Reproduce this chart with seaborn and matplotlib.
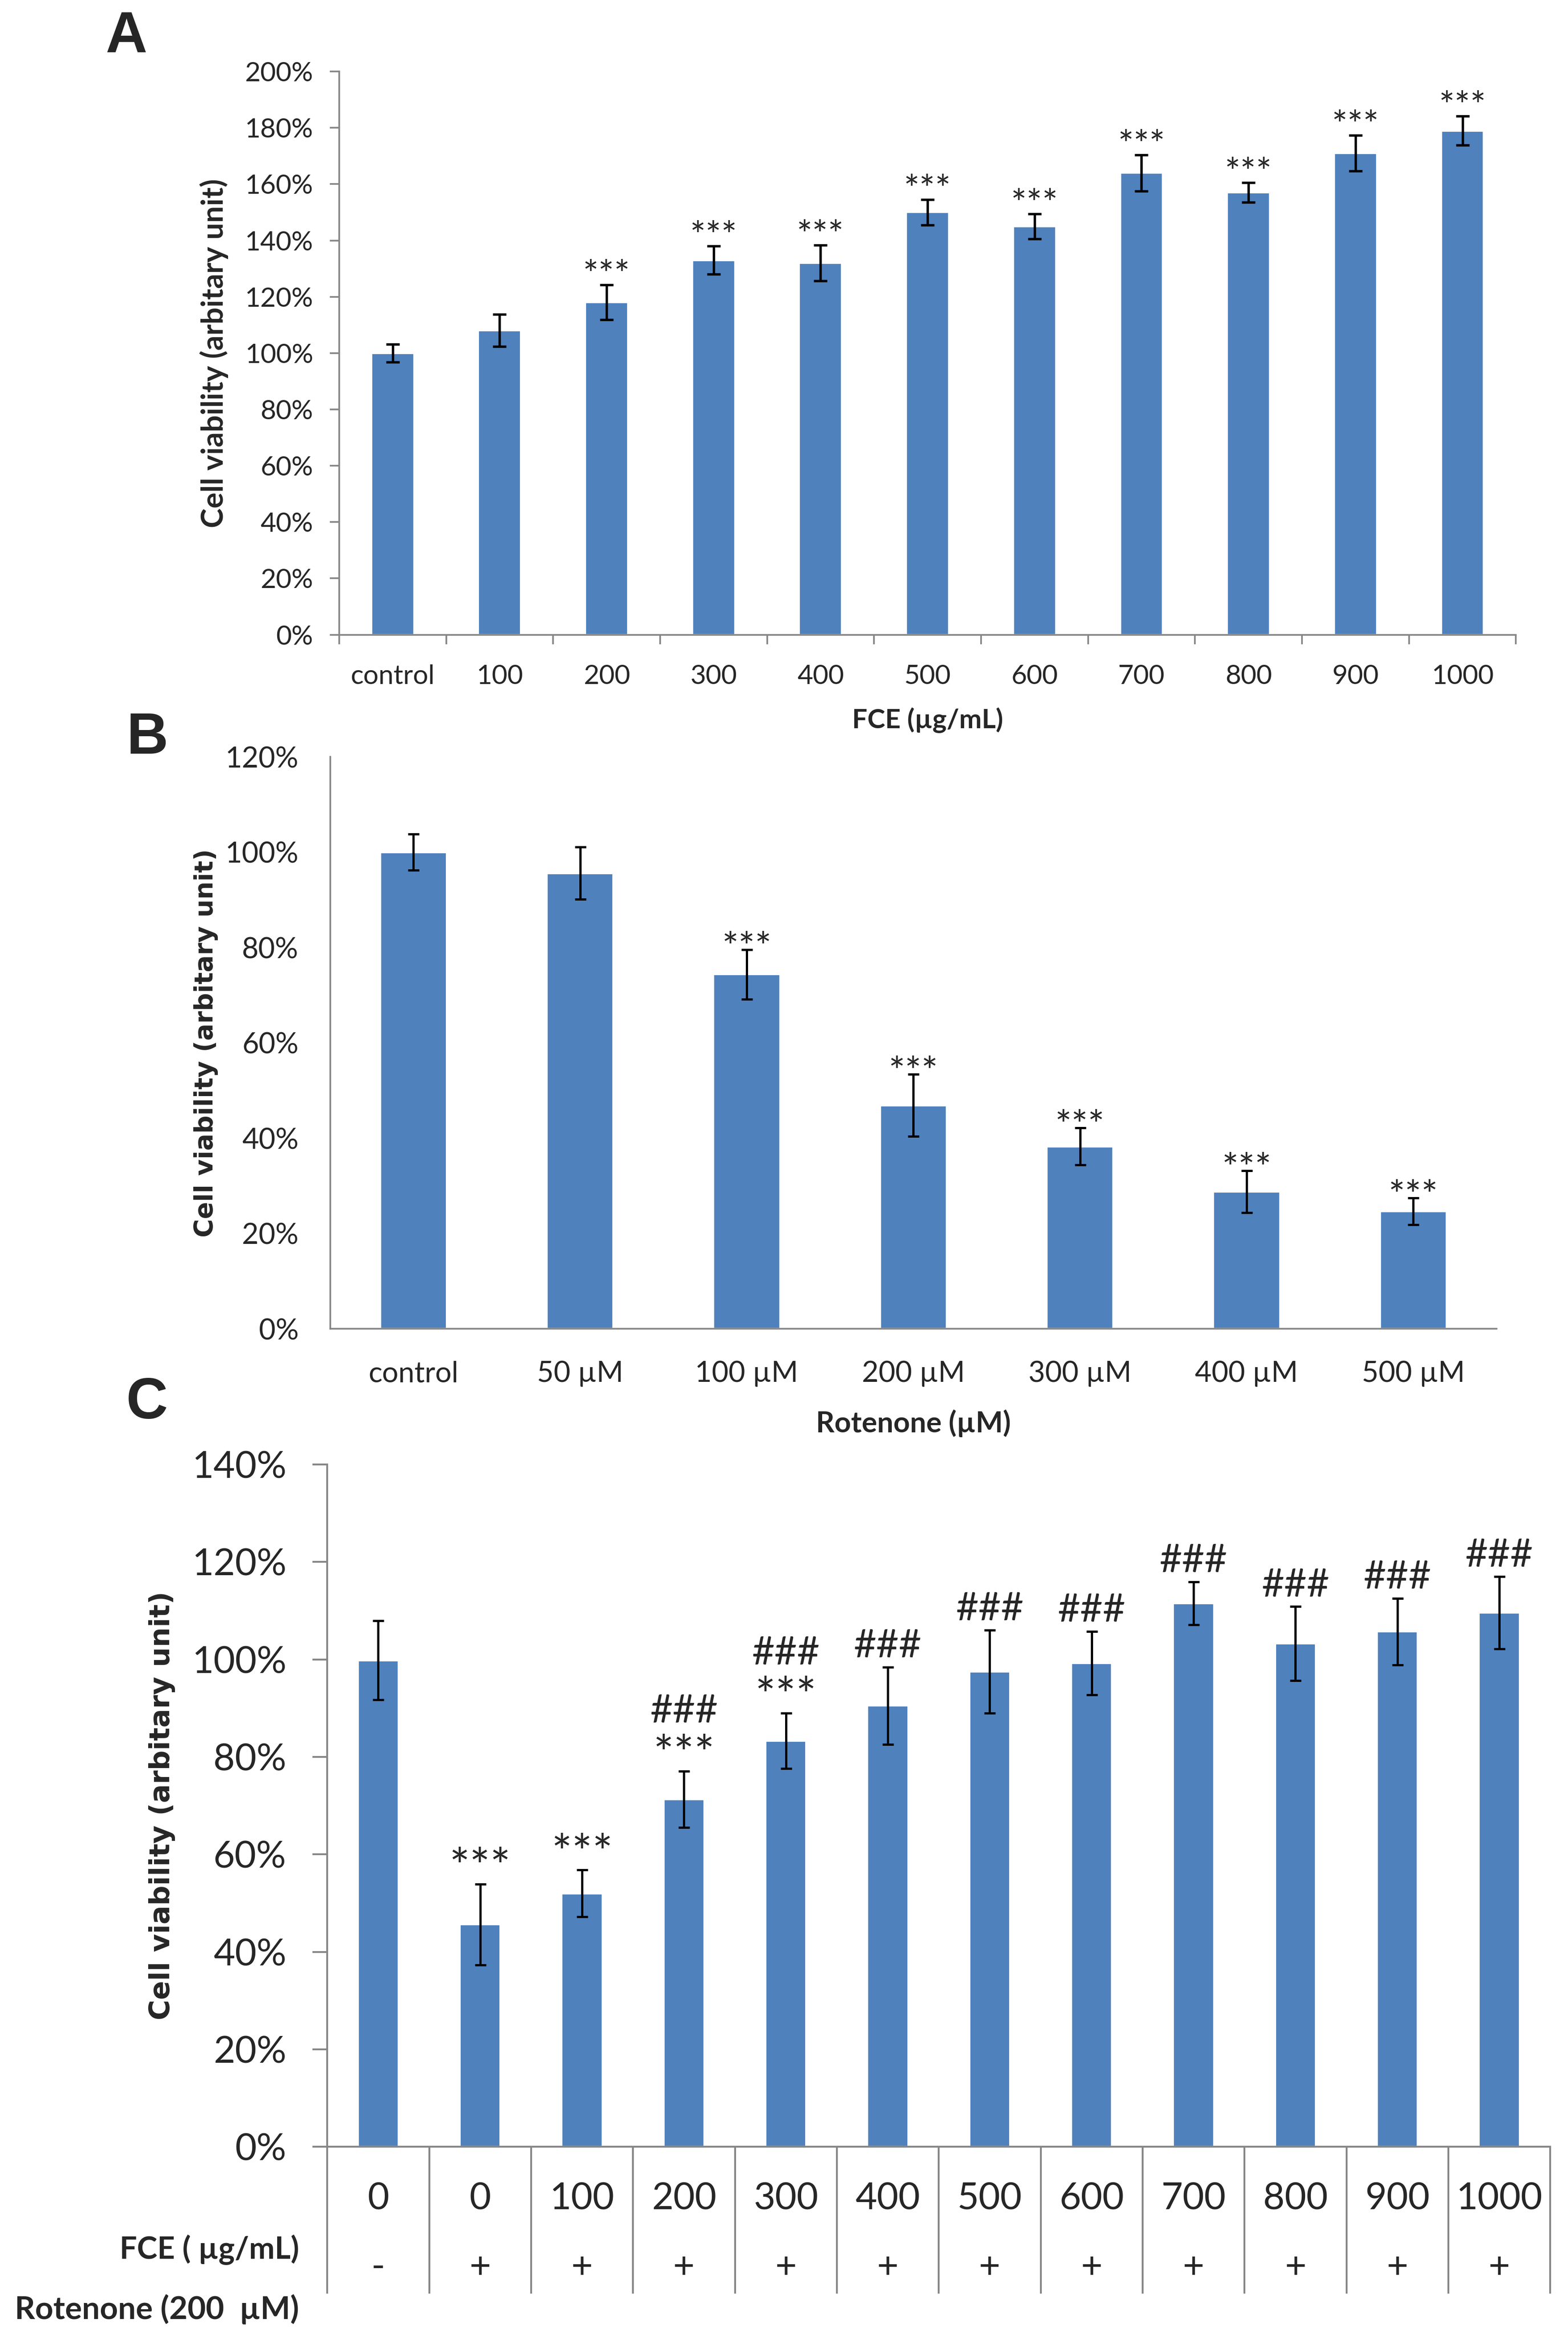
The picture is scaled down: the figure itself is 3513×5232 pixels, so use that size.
import matplotlib
matplotlib.use('Agg')
import matplotlib.pyplot as plt
from matplotlib.ticker import PercentFormatter, MultipleLocator
import numpy as np
import pandas as pd
import seaborn as sns

# Panel A: FCE alone
fce_doses = ['control', '100', '200', '300', '400', '500', '600', '700', '800', '900', '1000']
fce_viability = [100, 108, 118, 133, 132, 150, 145, 164, 157, 171, 179]
fce_error = [3.2, 5.7, 6.2, 5.0, 6.4, 4.5, 4.4, 6.4, 3.5, 6.4, 5.1]
fce_marks = ['', '', '***', '***', '***', '***', '***', '***', '***', '***', '***']

# Panel B: rotenone alone
rot_doses = ['control', '50 µM', '100 µM', '200 µM', '300 µM', '400 µM', '500 µM']
rot_viability = [100, 95.6, 74.4, 46.9, 38.3, 28.8, 24.7]
rot_error = [3.8, 5.5, 5.2, 6.5, 3.9, 4.4, 2.8]
rot_marks = ['', '', '***', '***', '***', '***', '***']

# Panel C: FCE + rotenone 200 uM
combo_fce = ['0', '0', '100', '200', '300', '400', '500', '600', '700', '800', '900', '1000']
combo_rot = ['-', '+', '+', '+', '+', '+', '+', '+', '+', '+', '+', '+']
combo_viability = [99.8, 45.6, 52.0, 71.3, 83.3, 90.5, 97.5, 99.2, 111.5, 103.3, 105.7, 109.6]
combo_error = [8.1, 8.3, 4.8, 5.8, 5.7, 7.9, 8.5, 6.5, 4.4, 7.6, 6.8, 7.4]
combo_vs_ctrl = ['', '***', '***', '***', '***', '', '', '', '', '', '', '']
combo_vs_rot = ['', '', '', '###', '###', '###', '###', '###', '###', '###', '###', '###']

BAR = '#4F81BD'
GRAY = '#868686'

sns.set_style('white')
plt.rcParams['font.family'] = ['Lato', 'DejaVu Sans']

fig = plt.figure(figsize=(3513 / 300, 5232 / 300), dpi=300)
ax_a = fig.add_axes([0.2163, 0.7283, 0.7505, 0.2411])
ax_b = fig.add_axes([0.2106, 0.4311, 0.7438, 0.2449])
ax_c = fig.add_axes([0.2087, 0.0810, 0.7800, 0.2921])


def draw_bars(ax, labels, values, errors, lw, cap):
    df = pd.DataFrame({'group': [f'g{i}' for i in range(len(labels))], 'value': values})
    sns.barplot(data=df, x='group', y='value', color=BAR, saturation=1, width=0.4, ax=ax)
    centers = [p.get_x() + p.get_width() / 2 for p in ax.patches]
    ax.errorbar(centers, values, yerr=errors, fmt='none', ecolor='black',
                elinewidth=lw, capsize=cap, capthick=lw, zorder=3)
    ax.set_xticks(centers, labels)
    ax.set_xlim(-0.5, len(labels) - 0.5)
    for s in ['top', 'right']:
        ax.spines[s].set_visible(False)
    for s in ['left', 'bottom']:
        ax.spines[s].set_color(GRAY)
        ax.spines[s].set_linewidth(0.9)
    ax.yaxis.set_major_formatter(PercentFormatter(xmax=100, decimals=0))
    ax.yaxis.set_major_locator(MultipleLocator(20))
    return centers


def mark(ax, centers, values, errors, marks, size, off):
    for x, v, e, m in zip(centers, values, errors, marks):
        if m:
            ax.annotate(m, xy=(x, v + e), xytext=(0, off), textcoords='offset points',
                        ha='center', va='baseline', fontsize=size)


# ---- A ----
ca = draw_bars(ax_a, fce_doses, fce_viability, fce_error, 1.3, 3.5)
ax_a.set_ylim(0, 200)
mark(ax_a, ca, fce_viability, fce_error, fce_marks, 20, -1.2)
ax_a.set_xticks(np.arange(len(fce_doses) + 1) - 0.5, minor=True)
ax_a.tick_params(axis='x', which='major', length=0, pad=16, labelsize=14.5)
ax_a.tick_params(axis='x', which='minor', length=5, width=0.9, color=GRAY, direction='out', bottom=True)
ax_a.tick_params(axis='y', length=5, width=0.9, color=GRAY, direction='out', left=True, pad=9, labelsize=14.5)
ax_a.set_xlabel('FCE (µg/mL)', fontsize=14.5, fontweight='bold', labelpad=10)
ax_a.set_ylabel('Cell viability (arbitary unit)', fontsize=16, fontweight='bold')
ax_a.yaxis.set_label_coords(-0.094, 0.5)

# ---- B ----
cb = draw_bars(ax_b, rot_doses, rot_viability, rot_error, 1.2, 3.0)
ax_b.set_ylim(0, 120)
mark(ax_b, cb, rot_viability, rot_error, rot_marks, 21, -5.8)
ax_b.tick_params(axis='x', length=0, pad=17, labelsize=15.5)
ax_b.tick_params(axis='y', length=0, pad=17, labelsize=15.5)
ax_b.set_xlabel('Rotenone (µM)', fontsize=15.5, fontweight='bold', labelpad=12)
ax_b.set_ylabel('Cell viability (arbitary unit)', fontsize=13.6, fontweight='bold',
                family=['DejaVu Sans'])
ax_b.yaxis.set_label_coords(-0.096, 0.5)

# ---- C ----
cc = draw_bars(ax_c, combo_fce, combo_viability, combo_error, 1.2, 3.0)
ax_c.set_ylim(0, 140)
mark(ax_c, cc, combo_viability, combo_error, combo_vs_ctrl, 26, 0.4)
hash_off = [26.1 if s else 5.3 for s in combo_vs_ctrl]
for x, v, e, m, o in zip(cc, combo_viability, combo_error, combo_vs_rot, hash_off):
    if m:
        ax_c.annotate(m, xy=(x, v + e), xytext=(0, o), textcoords='offset points',
                      ha='center', va='baseline', fontsize=21)
ax_c.set_xticks(np.arange(len(combo_fce) + 1) - 0.5, minor=True)
ax_c.tick_params(axis='x', which='major', length=0, pad=19, labelsize=20)
ax_c.tick_params(axis='x', which='minor', length=79, width=1.0, color=GRAY, direction='out', bottom=True)
ax_c.tick_params(axis='y', length=8, width=1.0, color=GRAY, direction='out', left=True, pad=14, labelsize=20)
for s in ['left', 'bottom']:
    ax_c.spines[s].set_linewidth(1.0)
for x, r in zip(cc, combo_rot):
    ax_c.text(x, -0.177, r, transform=ax_c.get_xaxis_transform(), ha='center', va='center', fontsize=20)
ax_c.text(-0.023, -0.151, 'FCE ( µg/mL)', transform=ax_c.transAxes, ha='right', va='center',
          fontsize=16.5, fontweight='bold')
ax_c.text(-0.023, -0.238, 'Rotenone (200  µM)', transform=ax_c.transAxes, ha='right', va='center',
          fontsize=17, fontweight='bold')
ax_c.set_xlabel('')
ax_c.set_ylabel('Cell viability (arbitary unit)', fontsize=15, fontweight='bold',
                family=['DejaVu Sans'])
ax_c.yaxis.set_label_coords(-0.124, 0.5)

# panel letters
for letter, (x, y) in zip(['A', 'B', 'C'], [(0.0806, 0.984), (0.0939, 0.6837), (0.0939, 0.3992)]):
    fig.text(x, y, letter, ha='center', va='center', fontsize=31, fontweight='bold',
             family=['Liberation Sans', 'DejaVu Sans'])

fig.savefig('out.png', dpi=300, facecolor='white')
